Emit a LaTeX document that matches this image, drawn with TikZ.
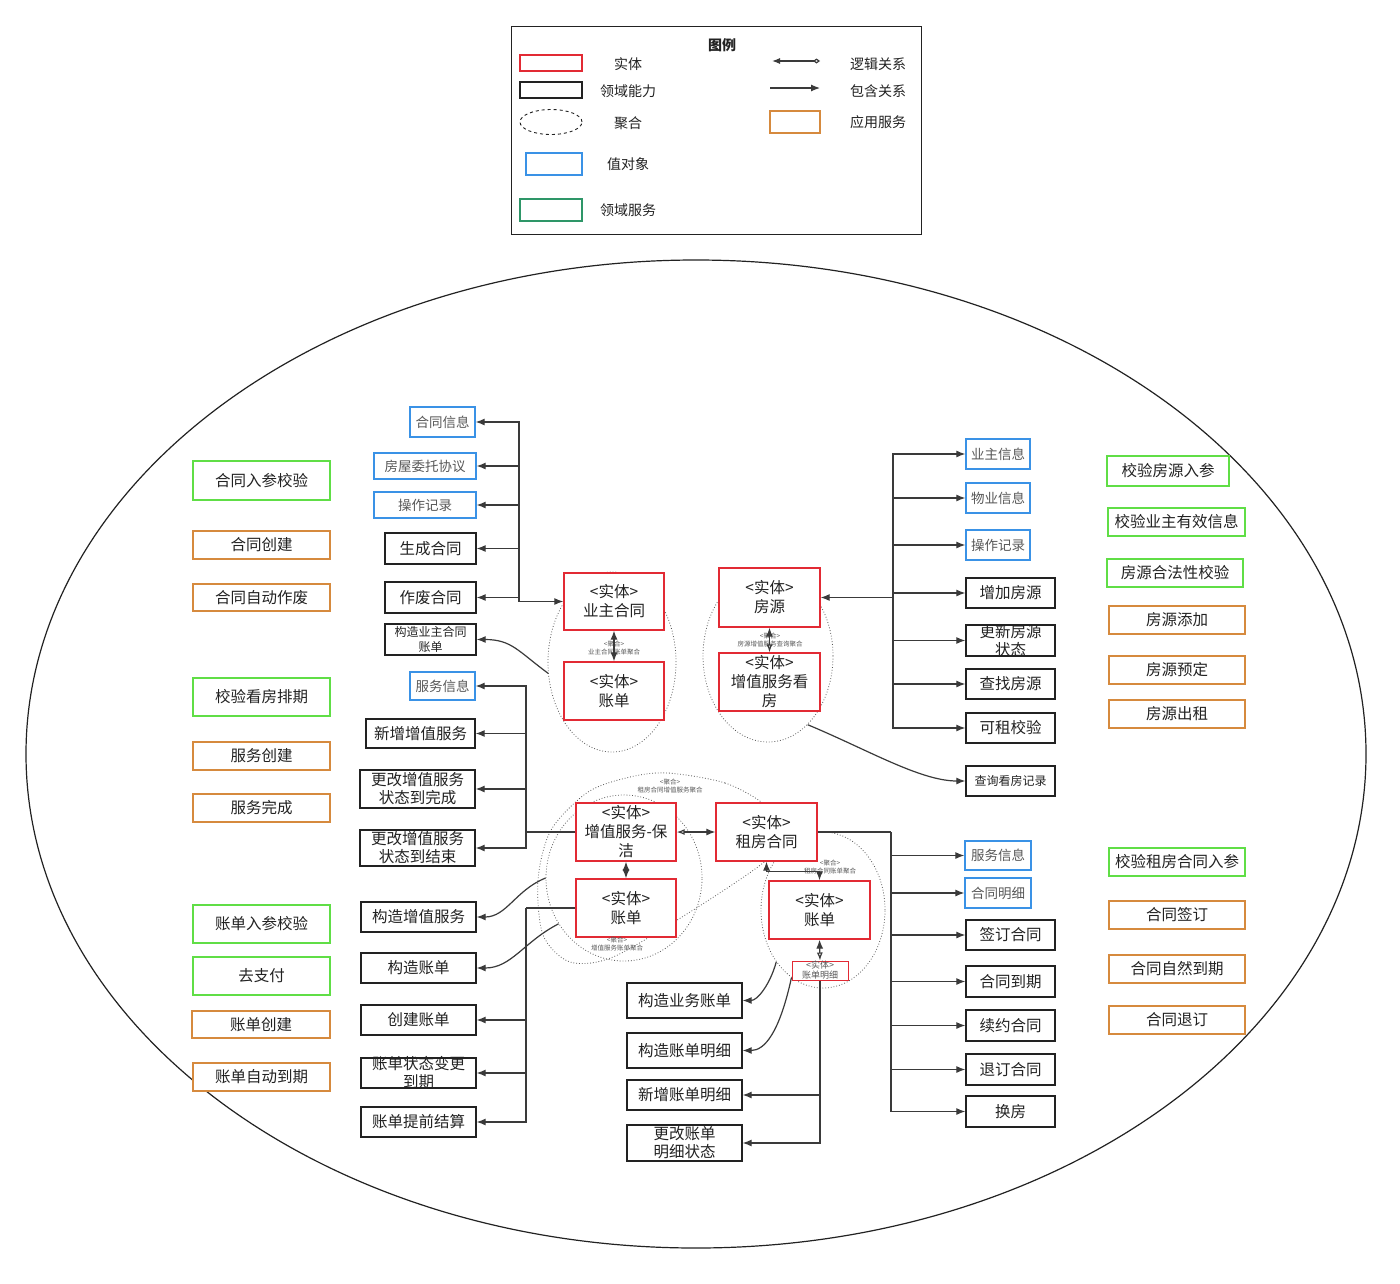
\documentclass[tikz,border=0pt]{standalone}
\usepackage{fontspec}
\setmainfont{Noto Sans CJK SC}
\usetikzlibrary{
    arrows.meta,
    shapes.geometric
}
\definecolor{ink}{RGB}{34,34,34}
\definecolor{wire}{RGB}{58,58,58}
\definecolor{muted}{RGB}{88,88,88}
\definecolor{entred}{RGB}{226,42,52}
\definecolor{voblue}{RGB}{58,146,230}
\definecolor{dsgreen}{RGB}{96,222,70}
\definecolor{lgteal}{RGB}{46,150,104}
\definecolor{asorange}{RGB}{214,138,62}
\newcommand{\fsz}[2]{\fontsize{#1pt}{#2pt}\selectfont}
\tikzset{
    line cap=round,
    >={Latex[length=9pt, width=7pt]},
    sz/.style 2 args={minimum width=#1pt, minimum height=#2pt},
    box/.style={
        rectangle,
        draw,
        fill=white,
        line width=1.3pt,
        inner sep=1pt,
        align=center,
        text=ink
    },
    entity/.style={box, draw=entred, font=\fsz{15.5}{19}},
    ability/.style={box, draw=ink, font=\fsz{15.5}{18}},
    abtext/.style={inner sep=0pt, align=center, text=ink, font=\fsz{15.5}{18}},
    valobj/.style={box, draw=voblue, text=muted, font=\fsz{13.5}{15}},
    dservice/.style={box, draw=dsgreen, font=\fsz{15.5}{18}},
    appservice/.style={box, draw=asorange, font=\fsz{15.5}{18}},
    aggr/.style={
        ellipse,
        draw=muted,
        dotted,
        line width=0.8pt,
        inner sep=0pt
    },
    aggrlabel/.style={inner sep=0pt, align=center, text=muted, font=\fsz{6.5}{8}},
    legendtext/.style={text=ink, font=\fsz{14}{16}},
    wireline/.style={draw=wire, line width=1.2pt},
    contain/.style={->, draw=wire, line width=1.2pt},
    bothway/.style={<->, draw=wire, line width=1.2pt},
    halfopen/.style={{Latex[length=9pt, width=7pt]}-{Latex[open, length=8pt, width=6pt]}, draw=wire, line width=1.2pt},
    logic/.style={{Latex[open, length=8pt, width=6pt]}->, draw=wire, line width=1.2pt}
}

\begin{document}
\begin{tikzpicture}[x=1pt, y=-1pt]

\useasboundingbox[fill=white] (0,0) rectangle (1400,1283);

% legend
\node[draw=ink, line width=1pt, sz={410}{208}] (legend) at (716,130) {};
\node[legendtext, font=\fsz{14}{16}\bfseries] (lgtitle) at (722,45) {图例};
\node[box, draw=entred, sz={62}{16}, inner sep=0pt] (lgent) at (551,63) {};
\node[box, draw=ink, sz={62}{16}, inner sep=0pt] (lgabl) at (551,90) {};
\node[ellipse, draw=ink, dashed, line width=0.9pt, sz={62}{25}, inner sep=0pt] (lgagg) at (551,122) {};
\node[box, draw=voblue, sz={56}{22}, inner sep=0pt] (lgvo) at (554,164) {};
\node[box, draw=lgteal, sz={62}{22}, inner sep=0pt] (lgds) at (551,210) {};
\node[box, draw=asorange, sz={50}{22}, inner sep=0pt] (lgas) at (795,122) {};
\node[legendtext] (lgt1) at (628,64) {实体};
\node[legendtext] (lgt2) at (628,91) {领域能力};
\node[legendtext] (lgt3) at (628,123) {聚合};
\node[legendtext] (lgt4) at (628,164) {值对象};
\node[legendtext] (lgt5) at (628,210) {领域服务};
\node[legendtext] (lgt6) at (878,64) {逻辑关系};
\node[legendtext] (lgt7) at (878,91) {包含关系};
\node[legendtext] (lgt8) at (878,122) {应用服务};
\coordinate (lglogic-a) at (772,61);
\coordinate (lglogic-b) at (820,61);
\coordinate (lgcont-a) at (770,88);
\coordinate (lgcont-b) at (820,88);
\draw[wireline, {Latex[length=8pt, width=6pt]}-{Diamond[open, length=7pt, width=5pt]}] (lglogic-a) -- (lglogic-b);
\draw[contain] (lgcont-a) -- (lgcont-b);

% bounded context
\draw[ink, line width=1.2pt] (696,754) ellipse [x radius=670pt, y radius=494pt];

% aggregates
\node[aggr, sz={128}{180}] (agYz) at (612,662) {};
\node[aggr, sz={130}{172}] (agFy) at (768,656) {};
\node[aggr, sz={156}{166}] (agZz) at (624,878) {};
\node[aggr, sz={124}{156}] (agZf) at (823,910) {};
\draw[draw=muted, dotted, line width=0.8pt] plot[smooth cycle] coordinates {
    (668,773) (725,783) (765,805) (785,835) (763,863) (690,912)
    (613,957) (570,962) (543,935) (538,880) (551,830) (588,792) (630,777)};

% left column
\node[dservice, sz={137}{39}] (l1) at (261.5,480.5) {合同入参校验};
\node[appservice, sz={137}{28}] (l2) at (261.5,545) {合同创建};
\node[appservice, sz={137}{27}] (l3) at (261.5,597.5) {合同自动作废};
\node[dservice, sz={137}{38}] (l4) at (261.5,697) {校验看房排期};
\node[appservice, sz={137}{28}] (l5) at (261.5,756) {服务创建};
\node[appservice, sz={137}{28}] (l6) at (261.5,808) {服务完成};
\node[dservice, sz={137}{38}] (l7) at (261.5,924) {账单入参校验};
\node[dservice, sz={137}{38}] (l8) at (261.5,976) {去支付};
\node[appservice, sz={138}{27}] (l9) at (261,1024.5) {账单创建};
\node[appservice, sz={137}{28}] (l10) at (261.5,1077) {账单自动到期};

% right column
\node[dservice, sz={122}{30}] (r1) at (1168,471) {校验房源入参};
\node[dservice, sz={137}{28}] (r2) at (1176.5,522) {校验业主有效信息};
\node[dservice, sz={136}{28}] (r3) at (1175,573) {房源合法性校验};
\node[appservice, sz={136}{28}] (r4) at (1177,620) {房源添加};
\node[appservice, sz={136}{28}] (r5) at (1177,670) {房源预定};
\node[appservice, sz={136}{28}] (r6) at (1177,714) {房源出租};
\node[dservice, sz={136}{28}] (r7) at (1177,862) {校验租房合同入参};
\node[appservice, sz={136}{28}] (r8) at (1177,915) {合同签订};
\node[appservice, sz={136}{28}] (r9) at (1177,969) {合同自然到期};
\node[appservice, sz={136}{28}] (r10) at (1177,1020) {合同退订};

% entities
\node[entity, sz={100}{57}] (yzht) at (614,601.5) {<实体>\\业主合同};
\node[entity, sz={100}{58}] (zd0) at (614,691) {<实体>\\账单};
\node[entity, sz={101}{59}] (fy) at (769.5,597.5) {<实体>\\房源};
\node[entity, sz={101}{58}] (kf) at (769.5,682) {<实体>\\增值服务看\\房};
\node[entity, sz={100}{58}] (bj) at (626,832) {<实体>\\增值服务-保\\洁};
\node[entity, sz={100}{58}] (zd1) at (626,908) {<实体>\\账单};
\node[entity, sz={101}{58}] (zfht) at (766.5,832) {<实体>\\租房合同};
\node[entity, sz={101}{58}] (zd2) at (819.5,910) {<实体>\\账单};
\node[entity, sz={56}{19}, inner sep=0pt, line width=1pt, text=muted, font=\fsz{9}{10}] (zdmx) at (820,970.5) {<实体>\\账单明细};

\node[aggrlabel] (lbYz) at (614,648) {<聚合>\\业主合同账单聚合};
\node[aggrlabel] (lbFy) at (770,640) {<聚合>\\房源增值服务查询聚合};
\node[aggrlabel] (lbZz) at (670,786) {<聚合>\\租房合同增值服务聚合};
\node[aggrlabel] (lbZd) at (617,944) {<聚合>\\增值服务账单聚合};
\node[aggrlabel] (lbZf) at (830,867) {<聚合>\\租房合同账单聚合};

% owner contract
\node[valobj, sz={65}{30}] (htxx) at (442.5,422) {合同信息};
\node[valobj, sz={102}{26}] (fwwt) at (425,466) {房屋委托协议};
\node[valobj, sz={102}{26}] (czjl1) at (425,505) {操作记录};
\node[ability, sz={91}{31}] (scht) at (430.5,548.5) {生成合同};
\node[ability, sz={91}{31}] (zfhe) at (430.5,597.5) {作废合同};
\node[ability, sz={91}{31}, font=\fsz{12}{15}] (gzyz) at (430.5,639.5) {构造业主合同\\账单};

% value-added service
\node[valobj, sz={65}{28}] (fwxx1) at (442.5,686) {服务信息};
\node[ability, sz={109}{29}] (xzzz) at (420.5,733.5) {新增增值服务};
\node[ability, sz={115}{38}] (ggwc) at (417.5,789) {更改增值服务\\状态到完成};
\node[ability, sz={115}{36}] (ggjs) at (417.5,848) {更改增值服务\\状态到结束};

% bill
\node[ability, sz={115}{30}] (gzzz) at (418.5,917) {构造增值服务};
\node[ability, sz={115}{30}] (gzzd) at (418.5,968) {构造账单};
\node[ability, sz={115}{30}] (cjzd) at (418.5,1020) {创建账单};
\node[ability, sz={115}{30}] (zdzt) at (418.5,1073) {};
\node[abtext] (zdzt-t) at (zdzt) {账单状态变更\\到期};
\node[ability, sz={115}{30}] (zdjs) at (418.5,1122) {账单提前结算};

% bill detail
\node[ability, sz={115}{35}] (gzyw) at (684.5,1000.5) {构造业务账单};
\node[ability, sz={115}{35}] (gzmx) at (684.5,1050.5) {构造账单明细};
\node[ability, sz={115}{30}] (xzmx) at (684.5,1095) {新增账单明细};
\node[ability, sz={115}{36}] (ggmx) at (684.5,1143) {更改账单\\明细状态};

% house
\node[valobj, sz={64}{30}] (yzxx) at (998,454) {业主信息};
\node[valobj, sz={64}{30}] (wyxx) at (998,498) {物业信息};
\node[valobj, sz={64}{30}] (czjl2) at (998,545) {操作记录};
\node[ability, sz={89}{30}] (zjfy) at (1010.5,593) {增加房源};
\node[ability, sz={89}{31}] (gxfy) at (1010.5,640.5) {};
\node[abtext] (gxfy-t) at (gxfy) {更新房源\\状态};
\node[ability, sz={89}{30}] (czfy) at (1010.5,684) {查找房源};
\node[ability, sz={89}{30}] (kzjy) at (1010.5,728) {可租校验};
\node[ability, sz={89}{30}, font=\fsz{12}{15}] (cxkf) at (1010.5,781) {查询看房记录};

% rent contract
\node[valobj, sz={66}{29}] (fwxx2) at (998,855.5) {服务信息};
\node[valobj, sz={66}{30}] (htmx) at (998,893) {合同明细};
\node[ability, sz={89}{30}] (qdht) at (1010.5,935) {签订合同};
\node[ability, sz={89}{31}] (htdq) at (1010.5,981.5) {合同到期};
\node[ability, sz={89}{31}] (xyht) at (1010.5,1025.5) {续约合同};
\node[ability, sz={89}{31}] (tdht) at (1010.5,1069.5) {退订合同};
\node[ability, sz={89}{31}] (hf) at (1010.5,1111.5) {换房};

% trunks
\coordinate (tL1) at (519,601.5);
\coordinate (tR1) at (893,597.5);
\coordinate (tL2) at (526,832);
\coordinate (tL3) at (526,908);
\coordinate (tR2) at (891,832);

\foreach \b in {htxx,fwwt,czjl1,scht,zfhe}
    \draw[contain] (tL1) |- (\b.east);
\draw[contain] (tL1) -- (yzht.west);

\foreach \b in {yzxx,wyxx,czjl2,zjfy,gxfy,czfy,kzjy}
    \draw[contain] (tR1) |- (\b.west);
\draw[contain] (tR1) -- (fy.east);

\draw[wireline] (bj.west) -- (tL2);
\foreach \b in {fwxx1,xzzz,ggwc,ggjs}
    \draw[contain] (tL2) |- (\b.east);

\draw[wireline] (zd1.west) -- (tL3);
\foreach \b in {cjzd,zdzt,zdjs}
    \draw[contain] (tL3) |- (\b.east);

\draw[wireline] (zfht.east) -- (tR2);
\foreach \b in {fwxx2,htmx,qdht,htdq,xyht,tdht,hf}
    \draw[contain] (tR2) |- (\b.west);

\foreach \b in {xzmx,ggmx}
    \draw[contain] (zdmx.south) |- (\b.east);

% entity links
\draw[bothway] (yzht.south) -- (zd0.north);
\draw[halfopen] (fy.south) -- (kf.north);
\draw[bothway] (bj.south) -- (zd1.north);
\draw[logic] (bj.east) -- (zfht.west);
\draw[bothway] (zd2.north) -- ++(0,-9) -| (zfht.south);
\draw[halfopen] (zd2.south) -- (zdmx.north);

% curved links
\draw[contain] (agYz.190) .. controls +(-30,-22) and +(35,0) .. (gzyz.east);
\draw[contain] (agFy.300) .. controls +(60,25) and +(-45,0) .. (cxkf.west);
\draw[contain] (agZz.180) .. controls +(-30,12) and +(30,0) .. (gzzz.east);
\draw[contain] (agZz.215) .. controls +(-35,18) and +(35,0) .. (gzzd.east);
\draw[contain] (agZf.228) .. controls +(-6,22) and +(15,0) .. (gzyw.east);
\draw[contain] (agZf.245) .. controls +(-12,55) and +(22,0) .. (gzmx.east);

\end{tikzpicture}
\end{document}
